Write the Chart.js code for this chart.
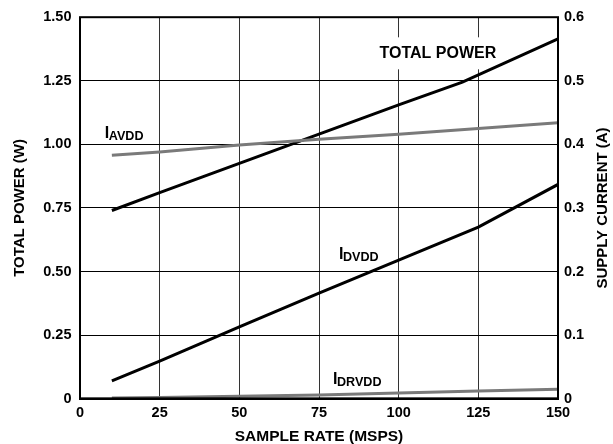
<!DOCTYPE html>
<html>
<head>
<meta charset="utf-8">
<script src="https://cdn.jsdelivr.net/npm/chart.js@4.4.1/dist/chart.umd.min.js"></script>
<style>
html,body{margin:0;padding:0;background:#fff;}
#wrap{width:613px;height:444px;}
</style>
</head>
<body>
<div id="wrap"><canvas id="c" width="613" height="444"></canvas></div>
<script>
// ---- data ----
const xTicks = [0, 25, 50, 75, 100, 125, 150];
const leftTickLabels = ['0', '0.25', '0.50', '0.75', '1.00', '1.25', '1.50'];
const rightTickLabels = ['0', '0.1', '0.2', '0.3', '0.4', '0.5', '0.6'];

const totalPowerX = [10, 25, 50, 75, 100, 120, 150];
const totalPowerW = [0.74, 0.81, 0.925, 1.04, 1.155, 1.245, 1.415];

const currentX = [10, 25, 50, 75, 100, 125, 150];
const iAVDD  = [0.383, 0.388, 0.399, 0.408, 0.416, 0.425, 0.434];
const iDVDD  = [0.028, 0.059, 0.113, 0.166, 0.218, 0.270, 0.337];
const iDRVDD = [0.001, 0.002, 0.004, 0.006, 0.009, 0.012, 0.015];

const FONT = "'Liberation Sans', Arial, Helvetica, sans-serif";

function pts(xs, ys) { return xs.map((v, i) => ({x: v, y: ys[i]})); }

// series labels: [x value, left-axis value]
const labelTotal = {text: 'TOTAL POWER', x: 112.3, y: 1.358};
const labelSeries = [
  {main: 'I', sub: 'AVDD', x: 7.8, y: 1.024},
  {main: 'I', sub: 'DVDD', x: 81.3, y: 0.549},
  {main: 'I', sub: 'DRVDD', x: 79.4, y: 0.058}
];

const annot = {
  id: 'annot',
  beforeDatasetsDraw(chart) {
    const {ctx, scales: {x, y}} = chart;
    ctx.save();
    ctx.font = 'bold 16px ' + FONT;
    const w = ctx.measureText(labelTotal.text).width;
    const cx = x.getPixelForValue(labelTotal.x);
    const cy = y.getPixelForValue(labelTotal.y);
    ctx.fillStyle = '#fff';
    ctx.fillRect(cx - w / 2 - 4, cy - 16, w + 8, 32);
    ctx.restore();
  },
  afterDatasetsDraw(chart) {
    const {ctx, chartArea: a, scales: {x, y}} = chart;
    ctx.save();
    // frame
    ctx.strokeStyle = '#000';
    ctx.lineWidth = 2;
    ctx.strokeRect(a.left, a.top, a.right - a.left, a.bottom - a.top);
    ctx.lineWidth = 2.5;
    ctx.beginPath(); ctx.moveTo(a.left - 1, a.bottom); ctx.lineTo(a.right + 1, a.bottom); ctx.stroke();

    ctx.fillStyle = '#000';
    ctx.textBaseline = 'middle';
    ctx.textAlign = 'center';
    ctx.font = 'bold 16px ' + FONT;
    ctx.fillText(labelTotal.text, x.getPixelForValue(labelTotal.x), y.getPixelForValue(labelTotal.y));

    ctx.textAlign = 'left';
    ctx.textBaseline = 'alphabetic';
    labelSeries.forEach(l => {
      const px = x.getPixelForValue(l.x);
      const py = y.getPixelForValue(l.y);
      ctx.font = 'bold 16px ' + FONT;
      ctx.fillText(l.main, px, py);
      const mw = ctx.measureText(l.main).width;
      ctx.font = 'bold 12.6px ' + FONT;
      ctx.fillText(l.sub, px + mw - 0.5, py + 2);
    });

    // right axis title (reads bottom to top)
    ctx.translate(603, (a.top + a.bottom) / 2);
    ctx.rotate(-Math.PI / 2);
    ctx.textAlign = 'center';
    ctx.textBaseline = 'middle';
    ctx.font = 'bold 15px ' + FONT;
    ctx.fillText('SUPPLY CURRENT (A)', 0, 0);
    ctx.restore();
  }
};

new Chart(document.getElementById('c'), {
  type: 'line',
  data: {
    datasets: [
      {label: 'IAVDD', data: pts(currentX, iAVDD), yAxisID: 'y1', borderColor: '#7a7a7a', borderWidth: 3},
      {label: 'IDRVDD', data: pts(currentX, iDRVDD), yAxisID: 'y1', borderColor: '#7a7a7a', borderWidth: 3},
      {label: 'TOTAL POWER', data: pts(totalPowerX, totalPowerW), yAxisID: 'y', borderColor: '#000', borderWidth: 3},
      {label: 'IDVDD', data: pts(currentX, iDVDD), yAxisID: 'y1', borderColor: '#000', borderWidth: 3}
    ]
  },
  options: {
    responsive: false,
    animation: false,
    devicePixelRatio: 1,
    layout: {padding: {top: 17, left: 0, right: 0, bottom: 0}},
    elements: {point: {radius: 0}, line: {tension: 0, borderCapStyle: 'butt'}},
    plugins: {legend: {display: false}, tooltip: {enabled: false}},
    scales: {
      x: {
        type: 'linear', min: 0, max: 150,
        afterBuildTicks(s) { s.ticks = xTicks.map(v => ({value: v})); },
        afterFit(s) { s.height = 45.3; },
        grid: {color: '#333', lineWidth: 1, drawTicks: false},
        border: {display: false},
        ticks: {color: '#000', padding: 6, font: {family: FONT, size: 14.5, weight: 'bold'}, maxRotation: 0},
        title: {display: true, text: 'SAMPLE RATE (MSPS)', color: '#000', padding: {top: 0, bottom: 0},
                font: {family: FONT, size: 15.5, weight: 'bold', lineHeight: 1}}
      },
      y: {
        position: 'left', min: 0, max: 1.5,
        afterBuildTicks(s) { s.ticks = leftTickLabels.map((t, i) => ({value: i * 0.25})); },
        afterFit(s) { s.width = 80; },
        grid: {color: '#000', lineWidth: 1, drawTicks: false},
        border: {display: false},
        ticks: {color: '#000', padding: 8.5, font: {family: FONT, size: 14.5, weight: 'bold'},
                callback: (v, i) => leftTickLabels[i]},
        title: {display: true, text: 'TOTAL POWER (W)', color: '#000', padding: {top: 12.5, bottom: 0},
                font: {family: FONT, size: 15, weight: 'bold', lineHeight: 1}}
      },
      y1: {
        position: 'right', min: 0, max: 0.6,
        afterBuildTicks(s) { s.ticks = rightTickLabels.map((t, i) => ({value: i * 0.1})); },
        afterFit(s) { s.width = 55; },
        grid: {drawOnChartArea: false, drawTicks: false},
        border: {display: false},
        ticks: {color: '#000', padding: 6, font: {family: FONT, size: 14.5, weight: 'bold'},
                callback: (v, i) => rightTickLabels[i]},
        title: {display: false}
      }
    }
  },
  plugins: [annot]
});
</script>
</body>
</html>
